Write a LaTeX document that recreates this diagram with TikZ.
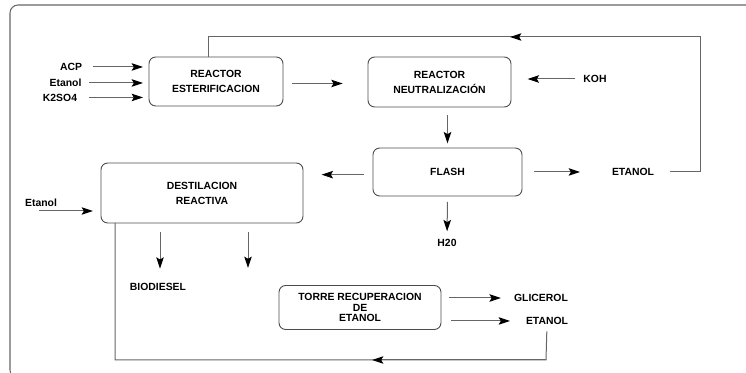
\documentclass[tikz,border=0pt]{standalone}
\usepackage{fontspec}
\setmainfont{Liberation Sans}
\usetikzlibrary{arrows.meta,positioning}

\tikzset{
  unitbox/.style={draw=black!70, line width=0.7pt, rounded corners=5pt, inner sep=0pt, outer sep=0pt, align=center,
    font=\fontsize{7.8}{11.25}\selectfont\bfseries},
  tag/.style={inner sep=0pt, outer sep=0pt, font=\fontsize{7.8}{9}\selectfont\bfseries},
  pipe/.style={draw=black!60, line width=0.75pt},
  flow/.style={pipe, -{Stealth[length=8.5pt,width=5.6pt,inset=1.6pt,color=black]}}
}

\begin{document}
\begin{tikzpicture}[x=0.75pt,y=-0.75pt]
\useasboundingbox (0,0) rectangle (746,373);
\clip (0,0) rectangle (746,373);

% outer frame
\draw[black!60, line width=0.8pt, rounded corners=6pt] (10,5) rectangle (760,378);

% process units
\node[unitbox, minimum width=100.5pt, minimum height=36.75pt] (esterif) at (216,81.5) {REACTOR\\ESTERIFICACION};
\node[unitbox, minimum width=107.25pt, minimum height=37.5pt] (neutral) at (439.5,82) {REACTOR\\NEUTRALIZACIÓN};
\node[unitbox, minimum width=111.75pt, minimum height=36pt] (flash) at (447.5,172) {FLASH};
\node[unitbox, minimum width=151.5pt, minimum height=45pt] (destil) at (202,193) {DESTILACION\\REACTIVA};
\node[unitbox, minimum width=121.5pt, minimum height=33pt, font=\fontsize{7.8}{7.9}\selectfont\bfseries] (torre) at (360,307.5) {TORRE RECUPERACION\\DE\\ETANOL};

% streams
\node[tag] (acp) at (71,67) {ACP};
\node[tag] (etanolA) at (65.5,83) {Etanol};
\node[tag] (kso) at (60,97.5) {K2SO4};
\node[tag] (koh) at (595,79) {KOH};
\node[tag] (etanolR) at (633,172) {ETANOL};
\node[tag] (h2o) at (447,243) {H20};
\node[tag] (etanolB) at (41,203) {Etanol};
\node[tag] (biod) at (158,287) {BIODIESEL};
\node[tag] (glic) at (541,298) {GLICEROL};
\node[tag] (etanolT) at (547,321) {ETANOL};

\coordinate (c1) at (700,172);
\coordinate (c2) at (700,37);
\coordinate (c3) at (208,37);
\coordinate (tipA) at (510,37);
\coordinate (c4) at (115,360);
\coordinate (c5) at (546,360);
\coordinate (tipB) at (372,360);
\coordinate (inB) at (39,211);
\coordinate (out2) at (248,268);

% feeds
\draw[flow, shorten <=8pt, shorten >=4.5pt] (acp.east) -- (acp.east -| esterif.west);
\draw[flow, shorten <=6pt, shorten >=4.5pt] (etanolA.east) -- (etanolA.east -| esterif.west);
\draw[flow, shorten <=9pt, shorten >=4.5pt] (kso.east) -- (kso.east -| esterif.west);
\draw[flow, shorten <=7pt, shorten >=19pt] ([yshift=-1.5pt]esterif.east) -- ([yshift=-1.5pt]esterif.east -| neutral.west);
\draw[flow, shorten <=6pt, shorten >=12.5pt] (koh.west) -- (koh.west -| neutral.east);
\draw[flow, shorten <=6pt, shorten >=3.5pt] (flash.north |- neutral.south) -- (flash.north);
\draw[flow, shorten <=9pt, shorten >=24pt] (flash.east) -- (flash.east -| etanolR.west);
\draw[flow, shorten <=4.5pt, shorten >=6pt] (flash.south) -- (h2o.north);
\draw[flow, shorten <=7pt, shorten >=14pt] ([yshift=-2pt]flash.west) -- ([yshift=-2pt]flash.west -| destil.east);
\draw[flow, shorten >=6pt] (inB) -- (inB -| destil.west);

% products
\draw[flow, shorten <=7pt, shorten >=11pt] ([xshift=1.5pt]biod.north |- destil.south) -- ([xshift=1.5pt]biod.north);
\draw[flow, shorten <=7pt] (out2 |- destil.south) -- (out2);
\draw[flow, shorten <=6pt, shorten >=10pt] ([yshift=0pt]torre.east |- glic) -- (glic.west);
\draw[flow, shorten <=7.5pt, shorten >=12pt] (torre.east |- etanolT) -- (etanolT.west);

% ethanol recycles
\draw[pipe, shorten <=12pt] (etanolR.east) -- (c1) -- (c2) -- (c3) -- (esterif.north -| c3);
\draw[flow] (c2) -- (tipA);
\draw[pipe, shorten <=5pt] (etanolT.south) -- (c5) -- (c4) -- (c4 |- destil.south);
\draw[flow] (c5) -- (tipB);
\end{tikzpicture}
\end{document}
